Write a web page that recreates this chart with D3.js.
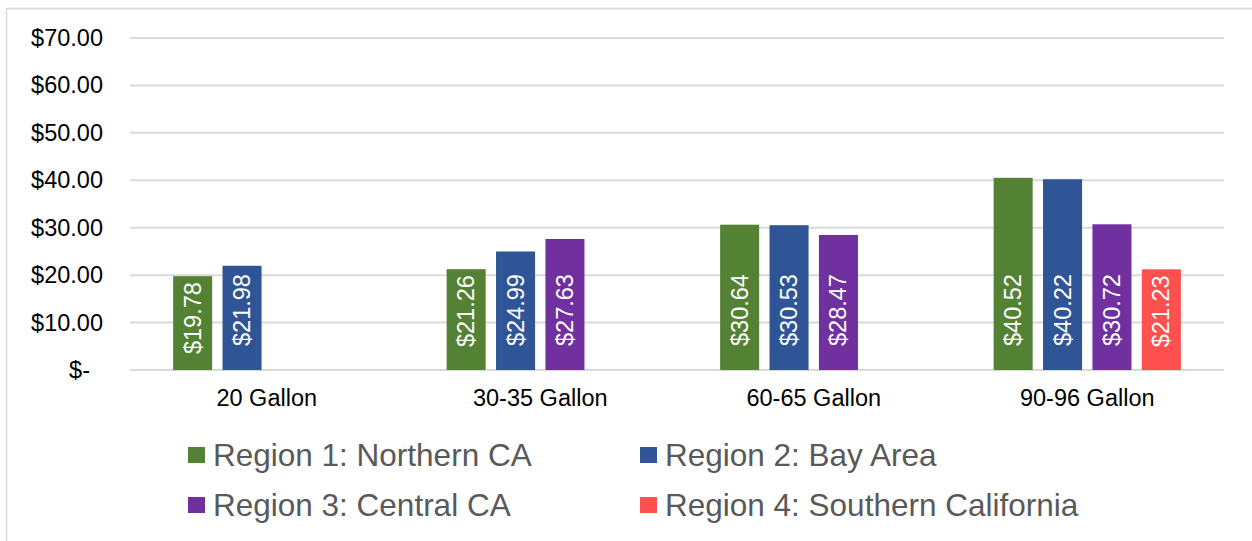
<!DOCTYPE html>
<html>
<head>
<meta charset="utf-8">
<script src="https://cdn.jsdelivr.net/npm/d3@7"></script>
<style>
  body { margin: 0; background: #fff; }
  svg { display: block; font-family: "Liberation Sans", Arial, sans-serif; }
</style>
</head>
<body>
<svg id="chart" width="1252" height="541"></svg>
<script>
var categories = ["20 Gallon", "30-35 Gallon", "60-65 Gallon", "90-96 Gallon"];
var regions = ["Region 1: Northern CA", "Region 2: Bay Area", "Region 3: Central CA", "Region 4: Southern California"];
var region1 = [19.78, 21.26, 30.64, 40.52];
var region2 = [21.98, 24.99, 30.53, 40.22];
var region3 = [null, 27.63, 28.47, 30.72];
var region4 = [null, null, null, 21.23];
var yTicks = [0, 10, 20, 30, 40, 50, 60, 70];
var colors = ["#548235", "#2f5597", "#7030a0", "#ff5050"];

var series = [region1, region2, region3, region4];

var svg = d3.select("#chart"),
    margin = {top: 38, right: 28, bottom: 171, left: 130},
    width = 1252 - margin.left - margin.right,
    height = 541 - margin.top - margin.bottom;

// outer chart border (only top and left show in the frame)
svg.append("rect")
    .attr("x", 6.5).attr("y", 8.5)
    .attr("width", 1300).attr("height", 600)
    .attr("fill", "none")
    .attr("stroke", "#d9d9d9")
    .attr("stroke-width", 1.5);

var g = svg.append("g").attr("transform", "translate(" + margin.left + "," + margin.top + ")");

var x0 = d3.scaleBand().domain(categories).range([0, width]).padding(0);
var groupW = x0.bandwidth() * 0.7225;
var x1 = d3.scaleBand().domain(d3.range(regions.length)).range([0, groupW])
    .paddingInner(0.21).paddingOuter(0.105);
var y = d3.scaleLinear().domain([0, 70]).range([height, 0]);

function money(v) {
    return v === 0 ? "$-" : "$" + d3.format(".2f")(v);
}

// grid lines
g.append("g")
    .selectAll("line")
    .data(yTicks)
    .enter().append("line")
    .attr("x1", 0).attr("x2", width)
    .attr("y1", function (d) { return y(d); })
    .attr("y2", function (d) { return y(d); })
    .attr("stroke", "#d9d9d9")
    .attr("stroke-width", 2);

// y axis labels
var yAxis = g.append("g")
    .call(d3.axisLeft(y).tickValues(yTicks).tickFormat(money).tickSize(0).tickPadding(27));
yAxis.select(".domain").remove();
yAxis.selectAll("text")
    .attr("font-size", "23.5px")
    .attr("fill", "#000")
    .attr("dx", function (d) { return d === 0 ? -13 : 0; });

// x axis labels
var xAxis = g.append("g")
    .attr("transform", "translate(0," + height + ")")
    .call(d3.axisBottom(x0).tickSize(0).tickPadding(19));
xAxis.select(".domain").remove();
xAxis.selectAll("text")
    .attr("font-size", "23.5px")
    .attr("fill", "#000");

// bars
var groups = g.append("g")
    .selectAll("g")
    .data(categories)
    .enter().append("g")
    .attr("transform", function (c) {
        return "translate(" + (x0(c) + (x0.bandwidth() - groupW) / 2) + ",0)";
    });

var bars = groups.selectAll("g.bar")
    .data(function (c, ci) {
        return series.map(function (s, si) { return {cat: c, region: si, value: s[ci]}; })
            .filter(function (d) { return d.value != null; });
    })
    .enter().append("g")
    .attr("class", "bar");

bars.append("rect")
    .attr("x", function (d) { return x1(d.region); })
    .attr("y", function (d) { return y(d.value); })
    .attr("width", x1.bandwidth())
    .attr("height", function (d) { return height - y(d.value); })
    .attr("fill", function (d) { return colors[d.region]; });

// value labels sit near the base, pushed down when the bar is short
bars.append("text")
    .attr("font-size", "23.5px")
    .attr("fill", "#fff")
    .attr("dominant-baseline", "central")
    .text(function (d) { return money(d.value); })
    .attr("transform", function (d) {
        var len = this.getComputedTextLength();
        var cx = x1(d.region) + x1.bandwidth() / 2;
        var start = Math.max(height - 24, y(d.value) + 6 + len);
        return "translate(" + cx + "," + start + ") rotate(-90)";
    });

// legend
var legend = svg.append("g")
    .selectAll("g")
    .data(regions)
    .enter().append("g")
    .attr("transform", function (d, i) {
        return "translate(" + (i % 2 === 0 ? 188 : 640) + "," + (i < 2 ? 455 : 505) + ")";
    });

legend.append("rect")
    .attr("x", 0).attr("y", -8)
    .attr("width", 17).attr("height", 16)
    .attr("fill", function (d, i) { return colors[i]; });

legend.append("text")
    .attr("x", 25)
    .attr("dy", "0.35em")
    .attr("font-size", "31.5px")
    .attr("fill", "#595959")
    .text(function (d) { return d; });
</script>
</body>
</html>
